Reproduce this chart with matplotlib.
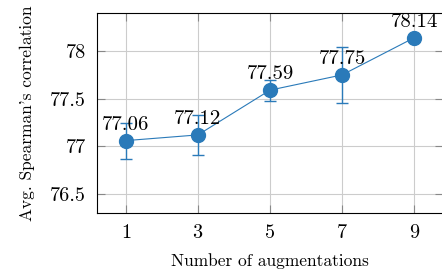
import matplotlib
matplotlib.use('Agg')
import matplotlib.pyplot as plt

plt.rcParams['font.family'] = 'serif'
plt.rcParams['font.serif'] = ['cmr10', 'DejaVu Serif']
plt.rcParams['mathtext.fontset'] = 'cm'
plt.rcParams['axes.formatter.use_mathtext'] = True

n_aug = [1, 3, 5, 7, 9]
corr = [77.06, 77.12, 77.59, 77.75, 78.14]
err = [0.19, 0.21, 0.11, 0.29, 0.0]
labels = ['77.06', '77.12', '77.59', '77.75', '78.14']

fig = plt.figure(figsize=(4.42, 2.71), dpi=100)
ax = fig.add_axes([97 / 442, 58 / 271, (443 - 97) / 442, 200 / 271])

ax.errorbar(n_aug, corr, yerr=err, color='#2a7ab9', marker='o', markersize=10,
            linewidth=0.8, elinewidth=1.0, ecolor='#2a7ab9', capsize=4, capthick=1.0,
            zorder=3)
for x, y, s in zip(n_aug, corr, labels):
    ax.annotate(s, (x, y), xytext=(0, 5), textcoords='offset points',
                ha='center', va='bottom', fontsize=15, zorder=4, clip_on=False)

ax.set_xlim(0.2, 9.8)
ax.set_ylim(76.3, 78.4)
ax.set_xticks(n_aug)
ax.set_yticks([76.5, 77, 77.5, 78])
ax.set_yticklabels(['76.5', '77', '77.5', '78'])
ax.grid(True, color='#cccccc', linewidth=0.8)
ax.set_axisbelow(True)
ax.tick_params(direction='in', length=6, color='#888888', top=True, right=True,
               labelsize=14.5, pad=8)
for sp in ax.spines.values():
    sp.set_linewidth(0.8)

ax.set_xlabel('Number of augmentations', fontsize=12.5, labelpad=8)
ax.set_ylabel("Avg. Spearman's correlation", fontsize=12.5, labelpad=11)

fig.savefig('out.png', dpi=100)
